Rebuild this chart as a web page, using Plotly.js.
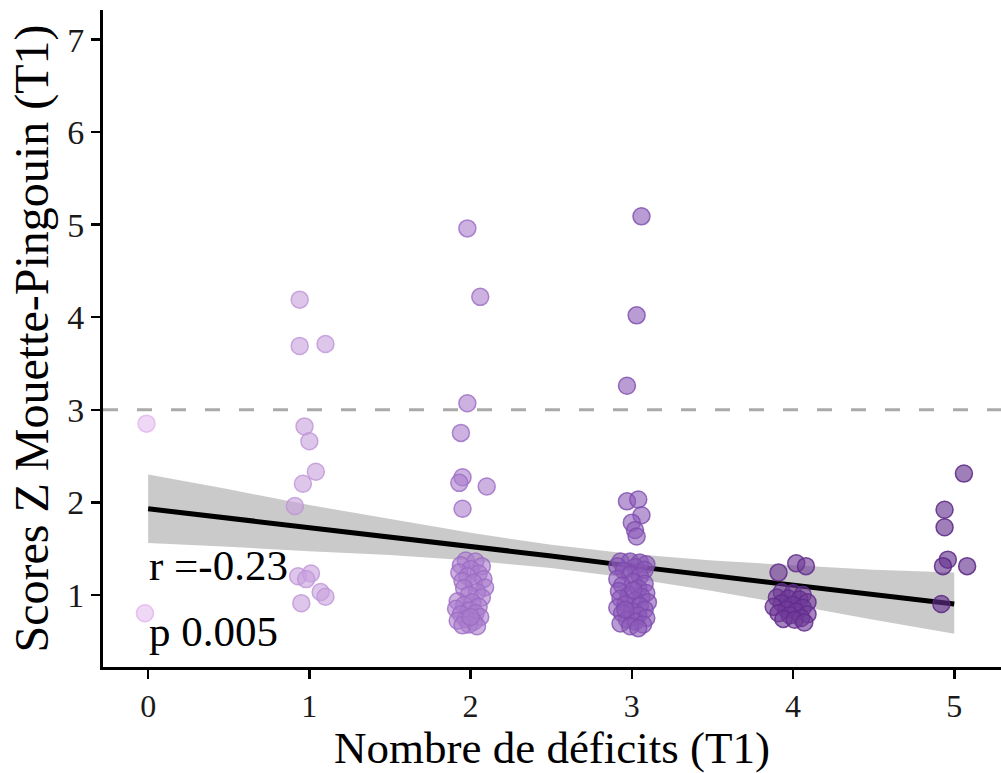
<!DOCTYPE html>
<html>
<head>
<meta charset="utf-8">
<script src="https://cdn.plot.ly/plotly-3.0.1.min.js"></script>
<style>html,body{margin:0;padding:0;background:#fff;}#chart{width:1001px;height:773px;}</style>
</head>
<body>
<div id="chart"></div>
<script>
// ---- data ----
const groupNames = ["0", "1", "2", "3", "4", "5"];
const groupColors = ["rgba(228,188,240,0.6)", "rgba(200,160,222,0.6)", "rgba(170,125,205,0.6)",
                     "rgba(140,90,185,0.6)", "rgba(112,58,152,0.62)", "rgba(100,48,142,0.62)"];
const lineColors = ["rgba(225,180,238,0.8)", "rgba(190,148,215,0.8)", "rgba(155,108,195,0.8)",
                    "rgba(125,75,172,0.8)", "rgba(98,45,140,0.85)", "rgba(90,38,132,0.85)"];

const x0 = [-0.01, -0.02];
const y0 = [2.85, 0.80];

const x1 = [0.94, 0.94, 1.10, 0.97, 1.00, 1.04, 0.96, 0.91, 0.93, 1.01, 0.98, 1.07, 1.10, 0.95];
const y1 = [4.19, 3.69, 3.71, 2.82, 2.66, 2.33, 2.20, 1.96, 1.20, 1.23, 1.17, 1.03, 0.98, 0.91];

const x2 = [1.98, 2.06, 1.98, 1.94, 1.95, 1.93, 2.10, 1.95,
  1.97, 2.03, 1.94, 2.07, 2.00, 1.93, 2.05, 1.98, 2.08, 1.95, 2.02, 2.09, 1.96, 2.04, 1.99, 2.07,
  1.92, 2.01, 1.96, 2.05, 1.91, 1.99, 2.03, 1.94, 2.06, 1.97, 1.92, 2.02, 1.99, 1.95, 2.04, 2.00];
const y2 = [4.96, 4.22, 3.07, 2.75, 2.27, 2.21, 2.17, 1.93,
  1.37, 1.36, 1.32, 1.31, 1.28, 1.24, 1.23, 1.20, 1.17, 1.15, 1.13, 1.08, 1.07, 1.03, 1.00, 0.97,
  0.93, 0.92, 0.89, 0.87, 0.85, 0.83, 0.80, 0.79, 0.76, 0.74, 0.72, 0.71, 0.68, 0.67, 0.66, 0.76];

const x3 = [3.06, 3.03, 2.97, 2.97, 3.04, 3.06, 3.00, 3.02, 3.03,
  2.93, 2.99, 3.05, 3.09, 2.91, 3.02, 3.08, 2.95, 2.99, 3.05, 2.91, 3.01, 3.08, 2.94, 3.04, 2.92,
  3.09, 2.98, 3.06, 2.93, 3.02, 3.10, 2.96, 3.05, 2.91, 3.08, 3.00, 2.94, 3.04, 3.09, 2.97, 3.02,
  2.93, 3.07, 2.99, 3.04, 2.96, 3.01];
const y3 = [5.09, 4.02, 3.26, 2.01, 2.03, 1.86, 1.78, 1.70, 1.63,
  1.36, 1.36, 1.35, 1.33, 1.31, 1.30, 1.27, 1.26, 1.22, 1.20, 1.17, 1.14, 1.12, 1.10, 1.07, 1.04,
  1.02, 1.00, 0.98, 0.96, 0.94, 0.92, 0.90, 0.88, 0.86, 0.84, 0.82, 0.80, 0.78, 0.75, 0.73, 0.71,
  0.69, 0.68, 0.66, 0.64, 0.84, 1.05];

const x4 = [3.91, 4.02, 4.08,
  3.93, 4.00, 4.06, 3.90, 3.97, 4.04, 4.09, 3.93, 4.00, 3.88, 4.06, 3.96, 4.02, 3.91, 4.09, 3.98,
  4.05, 3.94, 4.01, 4.07];
const y4 = [1.24, 1.34, 1.31,
  1.03, 1.02, 1.00, 0.97, 0.96, 0.95, 0.92, 0.91, 0.89, 0.87, 0.86, 0.84, 0.82, 0.80, 0.79, 0.78,
  0.75, 0.74, 0.73, 0.70];

const x5 = [5.06, 4.94, 4.94, 4.96, 4.93, 5.08, 4.92];
const y5 = [2.31, 1.92, 1.73, 1.38, 1.31, 1.31, 0.90];

// regression line and its confidence band
const fitX = [0, 0.5, 1, 1.5, 2, 2.5, 3, 3.5, 4, 4.5, 5];
const fitY = [1.93, 1.83, 1.72, 1.62, 1.52, 1.42, 1.31, 1.21, 1.11, 1.00, 0.90];
const ciUpper = [2.30, 2.14, 1.97, 1.82, 1.67, 1.54, 1.44, 1.37, 1.32, 1.27, 1.24];
const ciLower = [1.56, 1.52, 1.47, 1.43, 1.37, 1.29, 1.18, 1.04, 0.89, 0.73, 0.58];

const threshold = 3;
const xTicks = [0, 1, 2, 3, 4, 5];
const yTicks = [1, 2, 3, 4, 5, 6, 7];
const statR = "r =-0.23";
const statP = "p 0.005";

// ---- traces ----
const xs = [x0, x1, x2, x3, x4, x5];
const ys = [y0, y1, y2, y3, y4, y5];

const traces = [];
traces.push({
  x: fitX.concat(fitX.slice().reverse()),
  y: ciUpper.concat(ciLower.slice().reverse()),
  type: "scatter", mode: "lines", fill: "toself",
  fillcolor: "rgba(150,150,150,0.5)", line: {width: 0}, hoverinfo: "skip", showlegend: false
});
traces.push({
  x: fitX, y: fitY, type: "scatter", mode: "lines",
  line: {color: "#000", width: 5}, showlegend: false
});
for (let i = 0; i < xs.length; i++) {
  traces.push({
    x: xs[i], y: ys[i], type: "scatter", mode: "markers", name: groupNames[i],
    marker: {size: 17, color: groupColors[i], line: {color: lineColors[i], width: 1.5}},
    showlegend: false
  });
}

const serif = "Liberation Serif, Times New Roman, serif";
const layout = {
  width: 1001, height: 773,
  margin: {l: 103, r: 0, t: 10, b: 106},
  paper_bgcolor: "#fff", plot_bgcolor: "#fff",
  showlegend: false,
  font: {family: serif, color: "#000"},
  xaxis: {
    range: [-0.28, 5.29], tickvals: xTicks, ticktext: xTicks.map(String),
    showgrid: false, zeroline: false, showline: true, linecolor: "#000", linewidth: 3,
    ticks: "outside", ticklen: 9, tickwidth: 2.5, tickcolor: "#000",
    tickfont: {family: serif, size: 32, color: "#1a1a1a"},
    title: {text: "Nombre de déficits (T1)", font: {family: serif, size: 45, color: "#000"}, standoff: 6}
  },
  yaxis: {
    range: [0.22, 7.32], tickvals: yTicks, ticktext: yTicks.map(String),
    showgrid: false, zeroline: false, showline: true, linecolor: "#000", linewidth: 3,
    ticks: "outside", ticklen: 9, tickwidth: 2.5, tickcolor: "#000",
    tickfont: {family: serif, size: 34, color: "#1a1a1a"},
    title: {text: "Scores Z Mouette-Pingouin (T1)", font: {family: serif, size: 48, color: "#000"}, standoff: 4}
  },
  shapes: [{
    type: "line", xref: "paper", x0: 0, x1: 1, yref: "y", y0: threshold, y1: threshold,
    line: {color: "#aaaaaa", width: 3, dash: "15px,19px"}, layer: "below"
  }],
  annotations: [
    {x: -0.01, y: 1.32, xref: "x", yref: "y", text: statR, showarrow: false,
     xanchor: "left", yanchor: "middle", font: {family: serif, size: 43, color: "#000"}},
    {x: -0.01, y: 0.60, xref: "x", yref: "y", text: statP, showarrow: false,
     xanchor: "left", yanchor: "middle", font: {family: serif, size: 43, color: "#000"}}
  ]
};

Plotly.newPlot("chart", traces, layout, {displayModeBar: false, staticPlot: true});
</script>
</body>
</html>
